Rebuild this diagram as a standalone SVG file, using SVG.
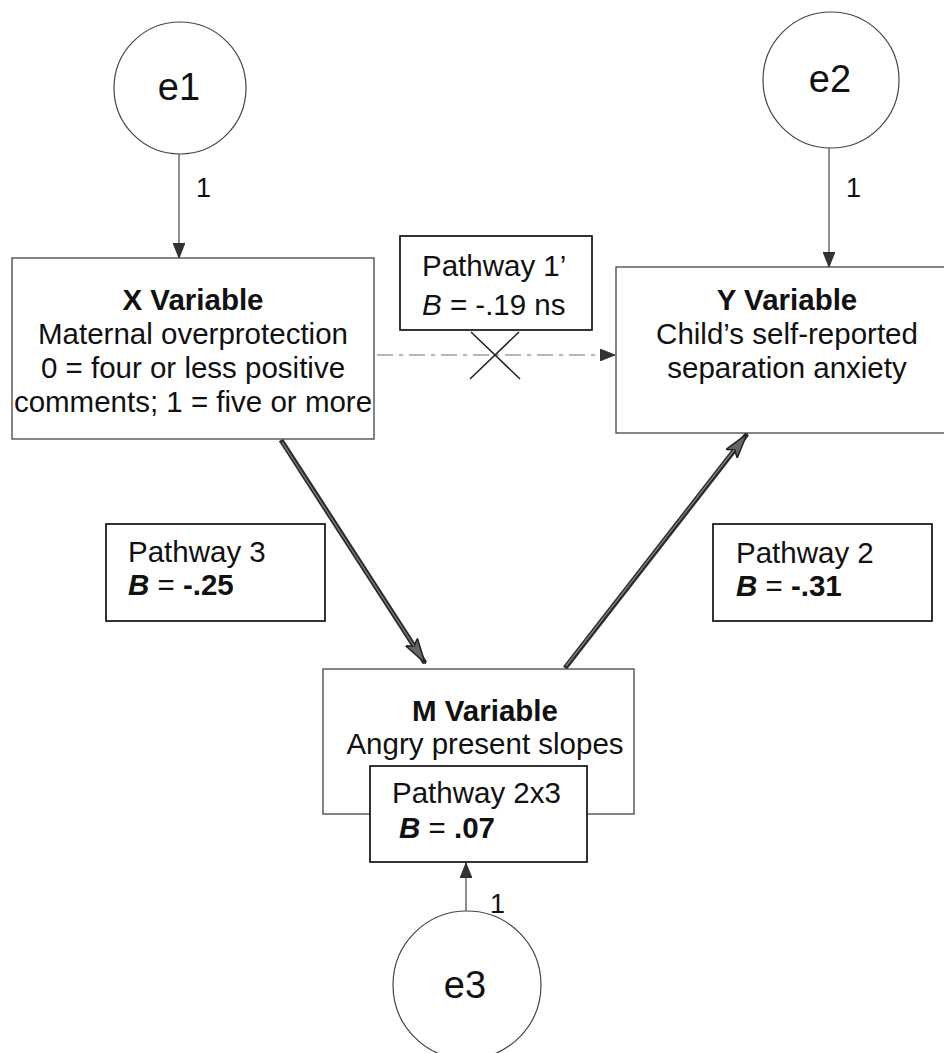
<svg xmlns="http://www.w3.org/2000/svg" width="944" height="1053" viewBox="0 0 944 1053">
  <style>
    text { font-family: "Liberation Sans", Arial, sans-serif; fill: #111; }
    .t { font-size: 29.5px; }
    .e { font-size: 38px; }
    .one { font-size: 27px; }
    .b { font-weight: bold; }
    .bi { font-weight: bold; font-style: italic; }
    .i { font-style: italic; }
    .var { fill: #fff; stroke: #444; stroke-width: 1.3; }
    .path { fill: #fff; stroke: #111; stroke-width: 1.7; }
    .err { fill: #fff; stroke: #444; stroke-width: 1.2; }
    .thin { stroke: #444; stroke-width: 1.2; fill: none; }
    .thick { stroke: #2a2a2a; stroke-width: 5; fill: none; }
    .core { stroke: #808080; stroke-width: 1.3; fill: none; }
    .dash { stroke: #a0a0a0; stroke-width: 1.5; stroke-dasharray: 16 6 4 6; fill: none; }
  </style>
  <defs>
    <marker id="headThin" markerUnits="userSpaceOnUse" markerWidth="16" markerHeight="12" refX="15" refY="6" orient="auto">
      <path d="M0,0 L15,6 L0,12 Z" fill="#333" stroke="#222" stroke-width="0.8"/>
    </marker>
    <marker id="headThick" markerUnits="userSpaceOnUse" markerWidth="26" markerHeight="16" refX="25" refY="8" orient="auto">
      <path d="M0,1 L25,8 L0,15 L5,8 Z" fill="#666" stroke="#222" stroke-width="1.5"/>
    </marker>
  </defs>

  <!-- connectors -->
  <g id="connectors">
    <line class="thin" x1="179" y1="154" x2="179" y2="258" marker-end="url(#headThin)"/>
    <line class="thin" x1="829" y1="147" x2="829" y2="267" marker-end="url(#headThin)"/>
    <line class="thin" x1="466" y1="911" x2="466" y2="863" marker-end="url(#headThin)"/>
    <line class="dash" x1="377" y1="355" x2="615" y2="355" marker-end="url(#headThin)"/>
    <line class="thick" x1="281" y1="440" x2="425" y2="663" marker-end="url(#headThick)"/>
    <line class="core" x1="282" y1="442" x2="414" y2="646"/>
    <line class="thick" x1="565" y1="668" x2="747" y2="434" marker-end="url(#headThick)"/>
    <line class="core" x1="566" y1="666" x2="734" y2="450"/>
    <!-- cross marking the non-significant direct path -->
    <line x1="471" y1="332" x2="520" y2="379" stroke="#222" stroke-width="1.5"/>
    <line x1="519" y1="332" x2="470" y2="379" stroke="#222" stroke-width="1.5"/>
  </g>

  <g id="e1">
    <circle class="err" cx="180" cy="88" r="66"/>
    <text class="e" x="179" y="100" text-anchor="middle">e1</text>
  </g>
  <text class="one" x="196" y="197">1</text>

  <g id="e2">
    <circle class="err" cx="831" cy="80" r="68"/>
    <text class="e" x="830" y="92" text-anchor="middle">e2</text>
  </g>
  <text class="one" x="846" y="197">1</text>

  <g id="x-variable">
    <rect class="var" x="12" y="258" width="362" height="181"/>
    <text class="t" text-anchor="middle" x="193" y="310"><tspan class="b">X Variable</tspan></text>
    <text class="t" text-anchor="middle" x="193" y="344">Maternal overprotection</text>
    <text class="t" text-anchor="middle" x="193" y="378">0 = four or less positive</text>
    <text class="t" text-anchor="middle" x="193" y="412">comments; 1 = five or more</text>
  </g>

  <g id="pathway1">
    <rect class="path" x="400" y="236" width="192" height="94"/>
    <text class="t" x="422" y="276">Pathway 1’</text>
    <text class="t" x="422" y="315"><tspan class="i">B</tspan> = -.19 ns</text>
  </g>

  <g id="y-variable">
    <rect class="var" x="616" y="267" width="340" height="166"/>
    <text class="t" text-anchor="middle" x="787" y="310"><tspan class="b">Y Variable</tspan></text>
    <text class="t" text-anchor="middle" x="787" y="344">Child’s self-reported</text>
    <text class="t" text-anchor="middle" x="787" y="378">separation anxiety</text>
  </g>

  <g id="pathway3">
    <rect class="path" x="106" y="524" width="219" height="97"/>
    <text class="t" x="128" y="562">Pathway 3</text>
    <text class="t" x="128" y="595"><tspan class="bi">B</tspan> = <tspan class="b">-.25</tspan></text>
  </g>

  <g id="pathway2">
    <rect class="path" x="713" y="524" width="219" height="97"/>
    <text class="t" x="736" y="563">Pathway 2</text>
    <text class="t" x="736" y="596"><tspan class="bi">B</tspan> = <tspan class="b">-.31</tspan></text>
  </g>

  <g id="m-variable">
    <rect class="var" x="323" y="669" width="311" height="145"/>
    <text class="t" text-anchor="middle" x="485" y="721"><tspan class="b">M Variable</tspan></text>
    <text class="t" text-anchor="middle" x="485" y="754">Angry present slopes</text>
  </g>

  <g id="pathway2x3">
    <rect class="path" x="370" y="766" width="217" height="96"/>
    <text class="t" x="392" y="803">Pathway 2x3</text>
    <text class="t" x="399" y="838"><tspan class="bi">B</tspan> = <tspan class="b">.07</tspan></text>
  </g>

  <g id="e3">
    <circle class="err" cx="467" cy="985" r="74"/>
    <text class="e" x="465" y="998" text-anchor="middle">e3</text>
  </g>
  <text class="one" x="490" y="913">1</text>
</svg>
